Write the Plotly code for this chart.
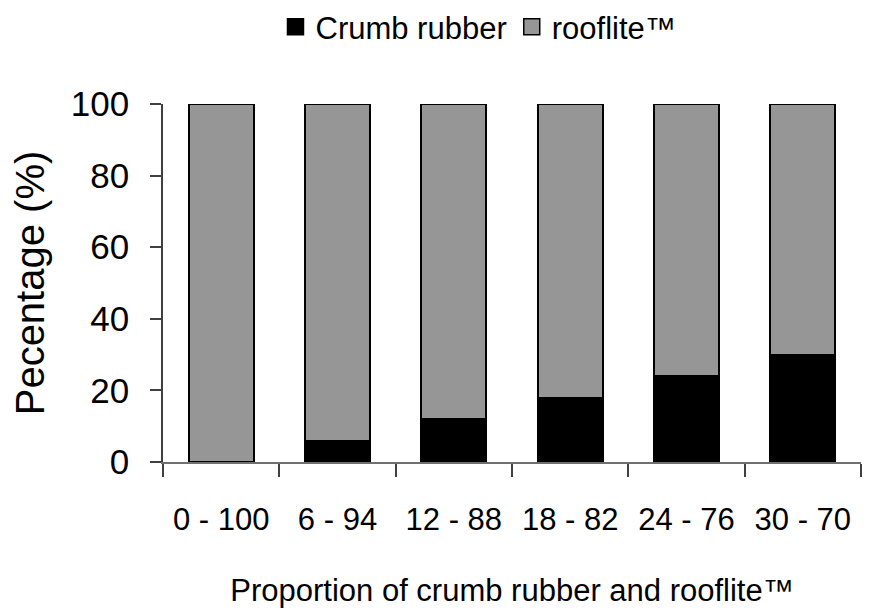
import plotly.graph_objects as go

categories = ["0 - 100", "6 - 94", "12 - 88", "18 - 82", "24 - 76", "30 - 70"]
crumb_rubber = [0, 6, 12, 18, 24, 30]
rooflite = [100, 94, 88, 82, 76, 70]

FONT = "Liberation Sans, Arial, sans-serif"
BLACK = "#000000"
GREY = "#969696"

fig = go.Figure()
fig.add_trace(go.Bar(x=categories, y=crumb_rubber, name="Crumb rubber", showlegend=False,
                     marker=dict(color=BLACK, line=dict(color=BLACK, width=2))))
fig.add_trace(go.Bar(x=categories, y=rooflite, name="rooflite™", showlegend=False,
                     marker=dict(color=GREY, line=dict(color=BLACK, width=2))))
# legend entries with larger square symbols
fig.add_trace(go.Scatter(x=[None], y=[None], mode="markers", name="Crumb rubber",
                         marker=dict(symbol="square", size=16, color=BLACK, line=dict(color=BLACK, width=1.5))))
fig.add_trace(go.Scatter(x=[None], y=[None], mode="markers", name="rooflite™",
                         marker=dict(symbol="square", size=16, color=GREY, line=dict(color=BLACK, width=1.5))))

fig.update_layout(
    barmode="stack",
    bargap=0.44,
    width=866, height=600,
    margin=dict(l=155, r=13, t=96, b=146, autoexpand=False),
    plot_bgcolor="white", paper_bgcolor="white",
    font=dict(family=FONT, color="black"),
    showlegend=True,
    legend=dict(orientation="h", x=0.452, xanchor="center", y=0.968, yref="container",
                yanchor="middle", font=dict(size=31, family=FONT), traceorder="normal",
                itemsizing="trace", itemwidth=30, tracegroupgap=0),
    xaxis=dict(showline=True, linecolor="#707070", linewidth=1.5, automargin=False,
               ticks="outside", ticklen=13, tickcolor="#404040", tickwidth=1.5, tickson="boundaries",
               tickfont=dict(size=31, family=FONT), ticklabelstandoff=29,
               title=dict(text="Proportion of crumb rubber and rooflite™", font=dict(size=31, family=FONT), standoff=48)),
    yaxis=dict(range=[0, 100], tickvals=[0, 20, 40, 60, 80, 100], showline=True, automargin=False,
               linecolor="#404040", linewidth=1.5, ticks="outside", ticklen=11, tickcolor="#404040",
               tickwidth=1.5, showgrid=False, zeroline=False, tickfont=dict(size=35, family=FONT),
               ticklabelstandoff=14,
               title=dict(text="Pecentage (%)", font=dict(size=40, family=FONT), standoff=16)),
)
fig.write_html("out.html")
